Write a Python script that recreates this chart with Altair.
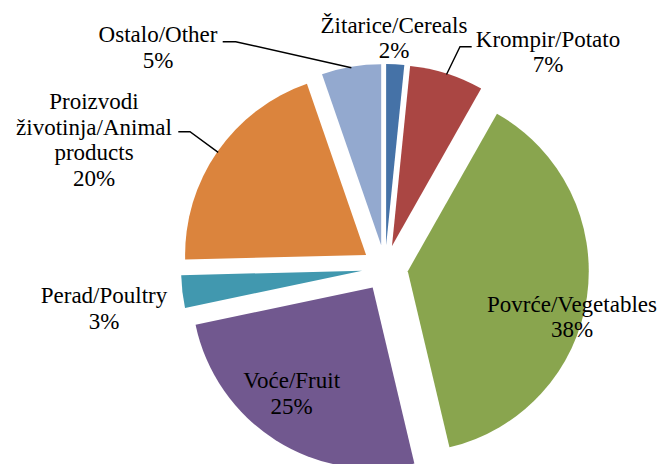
import math
import altair as alt
import pandas as pd

# ---- data ----
categories = ["Žitarice/Cereals", "Krompir/Potato", "Povrće/Vegetables", "Voće/Fruit",
              "Perad/Poultry", "Proizvodi životinja/Animal products", "Ostalo/Other"]
shares = [1.6, 6.6, 38.1, 25.4, 2.9, 20.1, 5.3]
label_names = ["Žitarice/Cereals", "Krompir/Potato", "Povrće/Vegetables", "Voće/Fruit",
               "Perad/Poultry", "Proizvodi\nživotinja/Animal\nproducts", "Ostalo/Other"]

# ---- style / layout ----
colors = ["#4572A7", "#AA4643", "#89A54E", "#71588F", "#4198AF", "#DB843D", "#93A9CF"]
W, H = 651, 456
CX, CY = 377, 260
R = 181
EXPLODE = 23
FONT = "Liberation Serif"
FS = 23
LH = 25.5

label_pos = {  # first-line baseline anchor, chart pixels
    "Žitarice/Cereals": (386, 24.5),
    "Krompir/Potato": (540, 38.7),
    "Povrće/Vegetables": (564, 303.7),
    "Voće/Fruit": (283.7, 380.3),
    "Perad/Poultry": (96, 295.3),
    "Proizvodi životinja/Animal products": (86, 101.3),
    "Ostalo/Other": (150, 34.3),
}
leader_pts = {  # label side -> elbow (then to the slice edge)
    "Krompir/Potato": [(463.7, 38.7), (452, 38.7)],
    "Proizvodi životinja/Animal products": [(170.3, 123.7), (182, 123.7)],
    "Ostalo/Other": [(214.7, 33.7), (227.7, 33.7)],
}

total = sum(shares)
mids = []
cum = 0.0
for s in shares:
    a0 = cum / total * 2 * math.pi
    cum += s
    a1 = cum / total * 2 * math.pi
    mids.append((a0 + a1) / 2)

pie = pd.DataFrame({
    "cat": categories,
    "share": shares,
    "idx": list(range(len(categories))),
    "cx": [CX + EXPLODE * math.sin(m) for m in mids],
    "cy": [CY - EXPLODE * math.cos(m) for m in mids],
})

labels = pd.DataFrame({
    "cat": categories,
    "txt": [f"{n}\n{round(s)}%" for n, s in zip(label_names, shares)],
    "lx": [label_pos[c][0] for c in categories],
    "ly": [label_pos[c][1] for c in categories],
})

rows = []
for c, pts in leader_pts.items():
    m = mids[categories.index(c)]
    end = (CX + (EXPLODE + R - 1) * math.sin(m), CY - (EXPLODE + R - 1) * math.cos(m))
    for k, (px, py) in enumerate(pts + [end]):
        rows.append({"cat": c, "k": k, "px": px, "py": py})
leaders = pd.DataFrame(rows)

arcs = alt.Chart(pie).mark_arc(outerRadius=R).encode(
    theta=alt.Theta("share:Q", stack=True),
    order=alt.Order("idx:Q", sort="ascending"),
    color=alt.Color("cat:N", scale=alt.Scale(domain=categories, range=colors), legend=None),
    x=alt.X("cx:Q", scale=None),
    y=alt.Y("cy:Q", scale=None),
)

lines = alt.Chart(leaders).mark_line(color="black", strokeWidth=1.4).encode(
    x=alt.X("px:Q", scale=None),
    y=alt.Y("py:Q", scale=None),
    detail="cat:N",
    order="k:Q",
)

texts = alt.Chart(labels).mark_text(
    font=FONT, fontSize=FS, lineBreak="\n", lineHeight=LH,
    align="center", baseline="alphabetic", color="black"
).encode(
    x=alt.X("lx:Q", scale=None),
    y=alt.Y("ly:Q", scale=None),
    text="txt:N",
)

chart = alt.layer(arcs, lines, texts).properties(
    width=W, height=H, padding=0, autosize="none", background="white"
).configure_view(stroke=None)

chart.save("out.html", embed_options={"renderer": "svg", "actions": False})
